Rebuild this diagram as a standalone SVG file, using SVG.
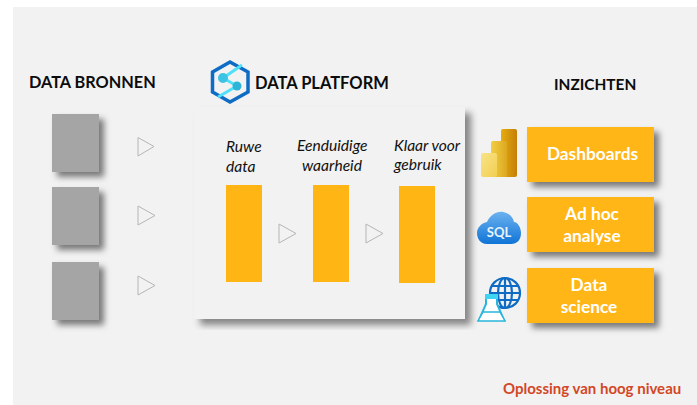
<svg xmlns="http://www.w3.org/2000/svg" width="697" height="405" viewBox="0 0 697 405">
<style>
text{font-family:Lato,"Open Sans",sans-serif}
.h{font-size:16.300px;font-weight:700;fill:#0c0c0c}
.i{font-size:15.600px;font-style:italic;fill:#111}
.w{font-size:17.300px;font-weight:700;fill:#fff;text-anchor:middle}
.g{fill:#a5a5a5;filter:url(#s)}
.o{fill:#ffb615}
.os{fill:#ffb615;filter:url(#s)}
.a{fill:none;stroke:#b5b5b5;stroke-width:1}
</style>
<defs>
<filter id="s" x="-20%" y="-20%" width="150%" height="150%"><feDropShadow dx="5" dy="5" stdDeviation="3" flood-color="#000" flood-opacity=".5"/></filter>
<filter id="p" x="-5%" y="-5%" width="110%" height="110%"><feDropShadow dx="6" dy="6" stdDeviation="3.500" flood-color="#000" flood-opacity=".45"/></filter>
<linearGradient id="b1" x1="0" x2="1" y1="0" y2="0"><stop offset="0" stop-color="#e6ad10"/><stop offset="1" stop-color="#c47f08"/></linearGradient>
<linearGradient id="b2" x1="0" x2="1" y1="0" y2="0"><stop offset="0" stop-color="#f2ce45"/><stop offset="1" stop-color="#dca820"/></linearGradient>
<linearGradient id="b3" x1="0" x2="1" y1="0" y2="1"><stop offset="0" stop-color="#f9e389"/><stop offset="1" stop-color="#f2cf50"/></linearGradient>
<linearGradient id="c" x1="0" x2="0" y1="0" y2="1"><stop offset="0" stop-color="#6cb2f0"/><stop offset="1" stop-color="#0f74d6"/></linearGradient>
</defs>
<rect x="13" y="7" width="684" height="398" fill="#f2f2f2"/>
<g id="title-sources"><text class="h" x="29" y="88">DATA BRONNEN</text></g>
<g id="title-platform">
<path d="M230 62L248 72V92L230 102L212.500 92V72Z" fill="none" stroke="#0f6cc4" stroke-width="3.500"/>
<path d="M223 78L237 86M242 65L223 78M218 97L237 86" fill="none" stroke="#50e0fa" stroke-width="3"/>
<circle cx="223" cy="78" r="5" fill="#3cc4e4"/><circle cx="237" cy="86" r="4.500" fill="#2eb4d8"/>
<text class="h" x="255" y="89" style="font-size:16.500px">DATA PLATFORM</text></g>
<g id="title-insights"><text class="h" x="554" y="90" style="font-size:15.400px">INZICHTEN</text></g>
<g id="source-1"><rect class="g" x="52" y="114" width="47" height="58"/></g>
<g id="source-2"><rect class="g" x="52" y="187" width="47" height="58"/></g>
<g id="source-3"><rect class="g" x="52" y="262" width="47" height="58"/></g>
<g id="platform"><rect x="194" y="107" width="271" height="212" fill="#f2f2f2" filter="url(#p)"/></g>
<g id="stage-raw"><text class="i" x="226" y="152">Ruwe</text><text class="i" x="226" y="172">data</text><rect class="o" x="226" y="185" width="36" height="97"/></g>
<g id="stage-truth"><text class="i" x="297" y="151">Eenduidige</text><text class="i" x="302" y="171">waarheid</text><rect class="o" x="313" y="185" width="36" height="97"/></g>
<g id="stage-ready"><text class="i" x="394" y="151">Klaar voor</text><text class="i" x="394" y="170">gebruik</text><rect class="o" x="399" y="186" width="36" height="97"/></g>
<g id="connectors">
<path class="a" d="M138 137.500L154 146.500L138 156Z"/>
<path class="a" d="M138 206L155 215.500L138 225Z"/>
<path class="a" d="M138 276L155 285.500L138 295Z"/>
<path class="a" d="M279 224L296 233.500L279 243Z"/>
<path class="a" d="M366 224L383 233.500L366 243Z"/>
</g>
<g id="icon-powerbi">
<rect x="501" y="129" width="16" height="48" rx="2" fill="url(#b1)"/>
<rect x="491" y="141" width="16" height="36" rx="2" fill="url(#b2)"/>
<rect x="481" y="153" width="16" height="24" rx="2" fill="url(#b3)"/>
</g>
<g id="icon-sql">
<path d="M487 244C480 244 477 238 477 233C477 227 482 223 487 222C490 215 497 211 503 212C509 213 513 217 514 222C518 222 521 228 521 233C521 240 517 244 511 244Z" fill="url(#c)"/>
<text x="499" y="237" font-size="13" font-weight="700" fill="#e8f4fc" text-anchor="middle">SQL</text>
</g>
<g id="icon-science">
<g fill="none" stroke="#0f6cc4" stroke-width="2.200"><circle cx="505" cy="293" r="15"/><ellipse cx="505" cy="293" rx="7" ry="15"/><path d="M505 278V308M490 293H520M492 286H518M492 300H518"/></g>
<path d="M486 296V304L479 320H504L497 304V296Z" fill="#fff" stroke="#2ab5dc" stroke-width="2"/>
<rect x="485" y="294" width="13" height="5" fill="#3fd4f2"/>
<path d="M478 321L483 312H500L505 321Z" fill="#fff" stroke="#2ab5dc" stroke-width="1.500"/>
</g>
<g id="dashboards"><rect class="os" x="527" y="127" width="127" height="55"/><text class="w" x="592.500" y="160">Dashboards</text></g>
<g id="adhoc"><rect class="os" x="527" y="197" width="127" height="55"/><text class="w" x="592" y="220">Ad hoc</text><text class="w" x="592" y="242">analyse</text></g>
<g id="science"><rect class="os" x="527" y="268" width="127" height="55"/><text class="w" x="589" y="291">Data</text><text class="w" x="589" y="313">science</text></g>
<g id="footer"><text x="503" y="394" font-size="15" font-weight="700" fill="#d24726">Oplossing van hoog niveau</text></g>
</svg>
